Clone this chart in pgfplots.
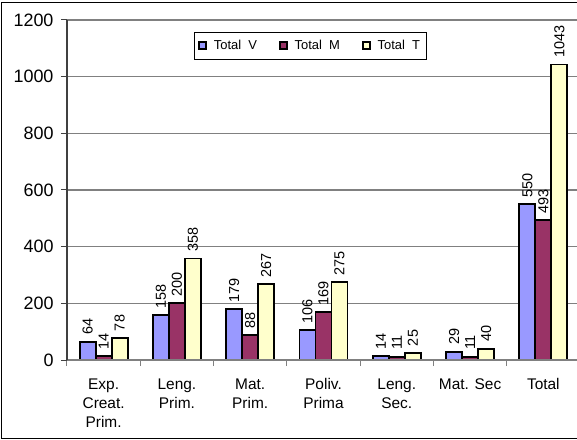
\documentclass[border=0pt]{standalone}
\usepackage{pgfplots}
\pgfplotsset{compat=1.18}
\usepackage{fontspec}
\setmainfont{Liberation Sans}
\definecolor{cV}{HTML}{9999FF}
\definecolor{cM}{HTML}{993366}
\definecolor{cT}{HTML}{FFFFCC}
\definecolor{axgray}{HTML}{808080}

\begin{document}
\begin{tikzpicture}
\useasboundingbox (-67bp,-80bp) rectangle (510bp,360bp);
\clip (-67bp,-80bp) rectangle (510bp,360bp);
\draw[black, line width=1bp] (-65.5bp,-78bp) rectangle (540bp,357.5bp);
\begin{axis}[
    at={(0,0)}, anchor=south west,
    scale only axis, width=513bp, height=340bp,
    ybar=0pt, bar width=16bp,
    xmin=-0.5, xmax=6.5, ymin=0, ymax=1200,
    ytick={0,200,...,1200},
    xtick={0,...,6},
    xticklabels={{Exp.\\Creat.\\Prim.},{Leng.\\Prim.},{Mat.\\Prim.},{Poliv.\\Prima},{Leng.\\Sec.},{Mat. Sec},{Total}},
    minor xtick={-0.5,0.5,...,6.5},
    tick pos=left, tick align=outside,
    major tick length=6bp, minor tick length=6bp,
    major x tick style={draw=none},
    minor x tick style={axgray, line width=1bp},
    major y tick style={black!75, line width=1bp},
    axis line style={draw=none},
    ymajorgrids, grid style={axgray, line width=1.2bp},
    /pgf/number format/assume math mode=true,
    /pgf/number format/1000 sep={},
    xticklabel style={align=center, font=\fontsize{15.5}{19}\selectfont, yshift=-9bp},
    yticklabel style={font=\fontsize{18}{18}\selectfont, xshift=-4bp},
    clip=false,
    every axis plot/.append style={draw=black, line width=1.8bp},
    nodes near coords,
    every node near coord/.append style={rotate=90, anchor=west, black, font=\fontsize{14.5}{14.5}\selectfont, inner sep=6bp},
    legend columns=3,
    legend style={at={(0.474,0.965)}, anchor=north, draw=black, line width=0.8bp,
        font=\fontsize{13}{13}\selectfont, inner xsep=4bp, inner ysep=6bp,
        /tikz/every odd column/.append style={column sep=5bp},
        /tikz/every even column/.append style={column sep=20bp}},
    legend image code/.code={\draw[#1, draw=black, line width=1.6bp] (0bp,-3.5bp) rectangle (7bp,3.5bp);},
]
\addplot[fill=cV] coordinates {(0,64) (1,158) (2,179) (3,106) (4,14) (5,29) (6,550)};
\addplot[fill=cM] coordinates {(0,14) (1,200) (2,88) (3,169) (4,11) (5,11) (6,493)};
\addplot[fill=cT] coordinates {(0,78) (1,358) (2,267) (3,275) (4,25) (5,40) (6,1043)};
\legend{Total\ \ V, Total\ \ M, Total\ \ T}
\draw[axgray, line width=2bp] (rel axis cs:0,1) -- (rel axis cs:1.05,1);
\draw[axgray, line width=1.5bp] (rel axis cs:0,0) -- (rel axis cs:1.05,0);
\draw[black!75, line width=2bp] (rel axis cs:0,0) -- (rel axis cs:0,1);
\end{axis}
\end{tikzpicture}
\end{document}
